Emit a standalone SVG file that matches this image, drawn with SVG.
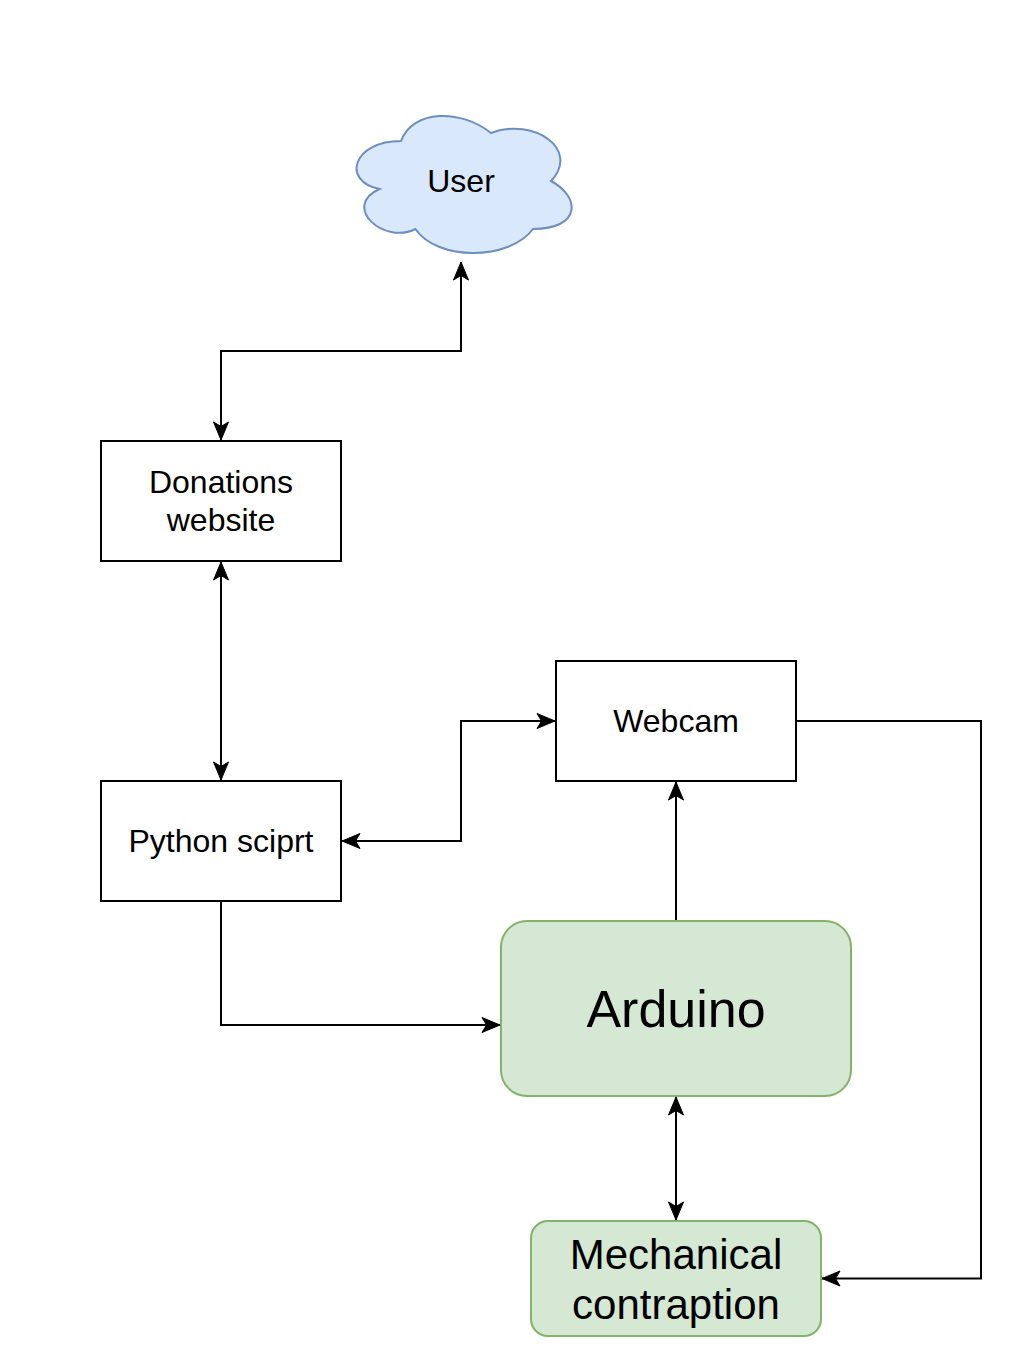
<svg xmlns="http://www.w3.org/2000/svg" width="1020" height="1358" viewBox="0 0 1020 1358">
<defs>
<style>
.box{fill:#ffffff;stroke:#000000;stroke-width:2}
.green{fill:#d5e8d4;stroke:#82b366;stroke-width:2}
.cloud{fill:#dae8fc;stroke:#6c8ebf;stroke-width:2}
.edge{fill:none;stroke:#000000;stroke-width:2}
text{font-family:"Liberation Sans",Arial,Helvetica,sans-serif;fill:#000000;text-anchor:middle;dominant-baseline:central}
</style>
<marker id="arr" markerUnits="userSpaceOnUse" markerWidth="20" markerHeight="18" viewBox="-19 -9 20 18" refX="0" refY="0" orient="auto-start-reverse">
<path d="M0,0 L-18,-7.5 L-13.5,0 L-18,7.5 Z" fill="#000000" stroke="#000000" stroke-width="1"/>
</marker>
</defs>
<rect width="1020" height="1358" fill="#ffffff"/>
<g id="connectors">
<path class="edge" d="M461,262 L461,351 L221,351 L221,440" marker-start="url(#arr)" marker-end="url(#arr)"/>
<path class="edge" d="M221,562 L221,780" marker-start="url(#arr)" marker-end="url(#arr)"/>
<path class="edge" d="M342,841 L461,841 L461,721 L555,721" marker-start="url(#arr)" marker-end="url(#arr)"/>
<path class="edge" d="M221,901 L221,1025 L500,1025" marker-end="url(#arr)"/>
<path class="edge" d="M676,921 L676,782" marker-end="url(#arr)"/>
<path class="edge" d="M676,1097 L676,1220" marker-start="url(#arr)" marker-end="url(#arr)"/>
<path class="edge" d="M796,721 L981,721 L981,1278.5 L822,1278.5" marker-end="url(#arr)"/>
</g>
<g id="user">
<path class="cloud" d="M401,141 C353,141 341,181 379.4,189 C341,206.6 384.2,245 415.4,229 C437,261 509,261 533,229 C581,229 581,197 551,181 C581,149 533,117 491,133 C461,109 413,109 401,141 Z"/>
<text x="461" y="181" font-size="32">User</text>
</g>
<g id="donations">
<rect class="box" x="101" y="441" width="240" height="120"/>
<text x="221" y="482" font-size="32">Donations</text>
<text x="221" y="520" font-size="32">website</text>
</g>
<g id="python">
<rect class="box" x="101" y="781" width="240" height="120"/>
<text x="221" y="841" font-size="32">Python sciprt</text>
</g>
<g id="webcam">
<rect class="box" x="556" y="661" width="240" height="120"/>
<text x="676" y="721" font-size="32">Webcam</text>
</g>
<g id="arduino">
<rect class="green" x="501" y="921" width="350" height="175" rx="26" ry="26"/>
<text x="676" y="1008.5" font-size="52">Arduino</text>
</g>
<g id="mechanical">
<rect class="green" x="531" y="1221" width="290" height="115" rx="17" ry="17"/>
<text x="676" y="1254" font-size="42">Mechanical</text>
<text x="676" y="1304" font-size="42">contraption</text>
</g>
</svg>
